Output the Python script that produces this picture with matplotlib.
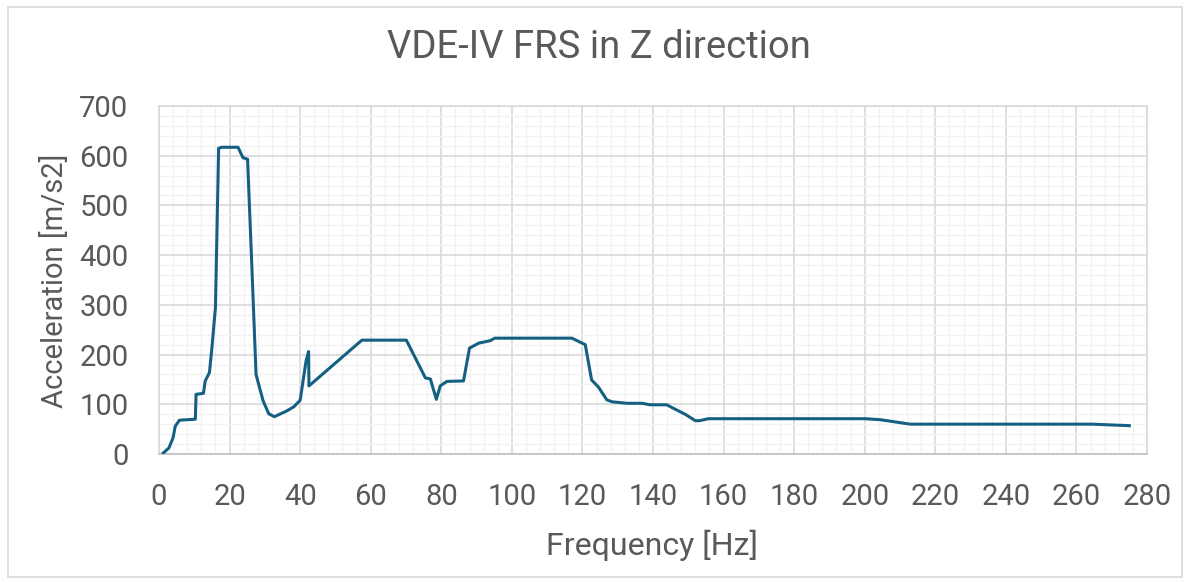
import matplotlib.pyplot as plt
from matplotlib.patches import Rectangle
from matplotlib.ticker import MultipleLocator

plt.rcParams['font.family'] = ['Roboto', 'DejaVu Sans']

# 频率 [Hz] 与加速度 [m/s2]
freq = [1.2, 2.8, 4.0, 4.6, 5.8, 10.3, 10.5, 12.6, 13.1, 14.3,
        15.0, 16.0, 16.9, 17.8, 22.4, 23.8, 25.1, 26.3, 27.5, 29.5,
        31.1, 32.7, 36.3, 38.2, 40.0, 41.7, 42.4, 42.5, 57.5, 70.1,
        75.5, 76.9, 78.6, 79.7, 81.6, 86.3, 88.0, 90.6, 93.9, 95.1,
        117.0, 120.8, 122.6, 124.6, 126.9, 128.4, 132.6, 136.9, 139.2, 143.9,
        146.3, 149.1, 152.0, 153.2, 155.7, 200.1, 204.4, 208.2, 212.9, 264.4,
        275.0]
accel = [2, 12, 33, 56, 68, 70, 120, 122, 147, 164,
         214, 295, 615, 617, 617, 596, 593, 380, 160, 107,
         81, 75, 87, 95, 108, 188, 206, 137, 229, 229,
         153, 151, 110, 137, 146, 147, 213, 223, 228, 233,
         233, 220, 149, 134, 109, 105, 102, 102, 99, 99,
         90, 80, 67, 67, 71, 71, 69, 65, 60, 60,
         57]

title = 'VDE-IV FRS in Z direction'
xlabel = 'Frequency [Hz]'
ylabel = 'Acceleration [m/s2]'

text_col = '#595959'
line_col = '#156082'

fig = plt.figure(figsize=(11.89, 5.83), dpi=100)
ax = fig.add_axes([159 / 1189, 1 - 454 / 583, 988 / 1189, 348 / 583])

ax.plot(freq, accel, color=line_col, linewidth=2.2, solid_joinstyle='round', zorder=3)

ax.set_xlim(0, 280)
ax.set_ylim(0, 700)
ax.xaxis.set_major_locator(MultipleLocator(20))
ax.xaxis.set_minor_locator(MultipleLocator(4))
ax.yaxis.set_major_locator(MultipleLocator(100))
ax.yaxis.set_minor_locator(MultipleLocator(20))

ax.grid(which='minor', color='#f2f2f2', linewidth=1.0, zorder=0)
ax.grid(which='major', color='#d9d9d9', linewidth=1.2, zorder=1)
ax.set_axisbelow(True)

ax.tick_params(which='both', length=0, labelsize=21, labelcolor=text_col)
ax.tick_params(axis='y', pad=22)
ax.tick_params(axis='x', pad=21)
for side, sp in ax.spines.items():
    sp.set_color('#d9d9d9')
    sp.set_linewidth(1.2)
ax.spines['bottom'].set_color('#bfbfbf')

fig.text(599 / 1189, 1 - 58.3 / 583, title, ha='center', va='baseline',
         fontsize=27.5, color=text_col)
fig.text(55 / 1189, 1 - 281 / 583, ylabel, ha='center', va='center',
         rotation=90, fontsize=21, color=text_col)
fig.text(652.5 / 1189, 1 - 555 / 583, xlabel, ha='center', va='baseline',
         fontsize=23, color=text_col)

# 外边框
fig.patches.append(Rectangle((8 / 1189, 6 / 583), 1174 / 1189, 570 / 583,
                             transform=fig.transFigure, fill=False,
                             edgecolor='#d9d9d9', linewidth=1.2))

fig.savefig('out.png', dpi=100)
plt.close(fig)
